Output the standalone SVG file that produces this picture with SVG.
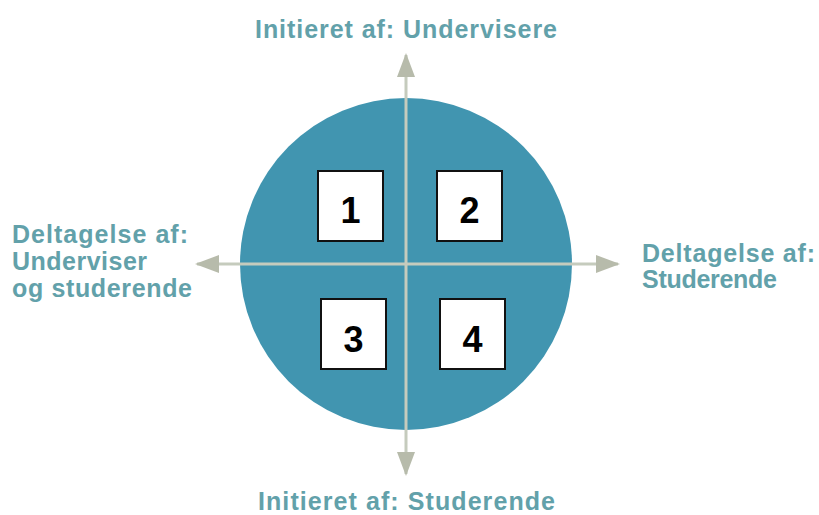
<svg xmlns="http://www.w3.org/2000/svg" width="819" height="515" viewBox="0 0 819 515">
<style>
.lbl{font-family:"Liberation Sans",Arial,sans-serif;font-weight:bold;font-size:25px;fill:#62a1aa}
.box{fill:#ffffff;stroke:#111111;stroke-width:2}
.num{font-family:"Liberation Sans",Arial,sans-serif;font-weight:bold;font-size:36px;fill:#000000;text-anchor:middle}
.axis{stroke:#c5cbbd;stroke-width:3;fill:none}
</style>
<defs>
<marker id="ah" viewBox="0 0 24 18" refX="22" refY="9" markerWidth="24" markerHeight="18" markerUnits="userSpaceOnUse" orient="auto">
<path d="M0,0 L24,9 L0,18 Z" fill="#b7bbab"/>
</marker>
</defs>
<rect width="819" height="515" fill="#ffffff"/>
<g id="circle">
<circle cx="406" cy="264" r="166" fill="#4195b0"/>
</g>
<g id="connectors">
<line class="axis" x1="406" y1="264" x2="406" y2="55" marker-end="url(#ah)"/>
<line class="axis" x1="406" y1="264" x2="406" y2="474" marker-end="url(#ah)"/>
<line class="axis" x1="406" y1="264" x2="197" y2="264" marker-end="url(#ah)"/>
<line class="axis" x1="406" y1="264" x2="618" y2="264" marker-end="url(#ah)"/>
</g>
<g id="box1"><rect class="box" x="318" y="171" width="65" height="70"/><text class="num" x="350.5" y="223">1</text></g>
<g id="box2"><rect class="box" x="437" y="171" width="65" height="70"/><text class="num" x="469.5" y="223">2</text></g>
<g id="box3"><rect class="box" x="321" y="299" width="65" height="70"/><text class="num" x="353.5" y="352">3</text></g>
<g id="box4"><rect class="box" x="440" y="299" width="65" height="70"/><text class="num" x="472.5" y="352">4</text></g>
<g id="label-top"><text class="lbl" x="255" y="38" textLength="302" lengthAdjust="spacing">Initieret af: Undervisere</text></g>
<g id="label-bottom"><text class="lbl" x="258" y="510" textLength="297" lengthAdjust="spacing">Initieret af: Studerende</text></g>
<g id="label-left">
<text class="lbl" x="12" y="243" textLength="176" lengthAdjust="spacing">Deltagelse af:</text>
<text class="lbl" x="12" y="270" textLength="135" lengthAdjust="spacing">Underviser</text>
<text class="lbl" x="12" y="297" textLength="180" lengthAdjust="spacing">og studerende</text>
</g>
<g id="label-right">
<text class="lbl" x="642" y="262" textLength="173" lengthAdjust="spacing">Deltagelse af:</text>
<text class="lbl" x="642" y="288" textLength="135" lengthAdjust="spacing">Studerende</text>
</g>
</svg>
